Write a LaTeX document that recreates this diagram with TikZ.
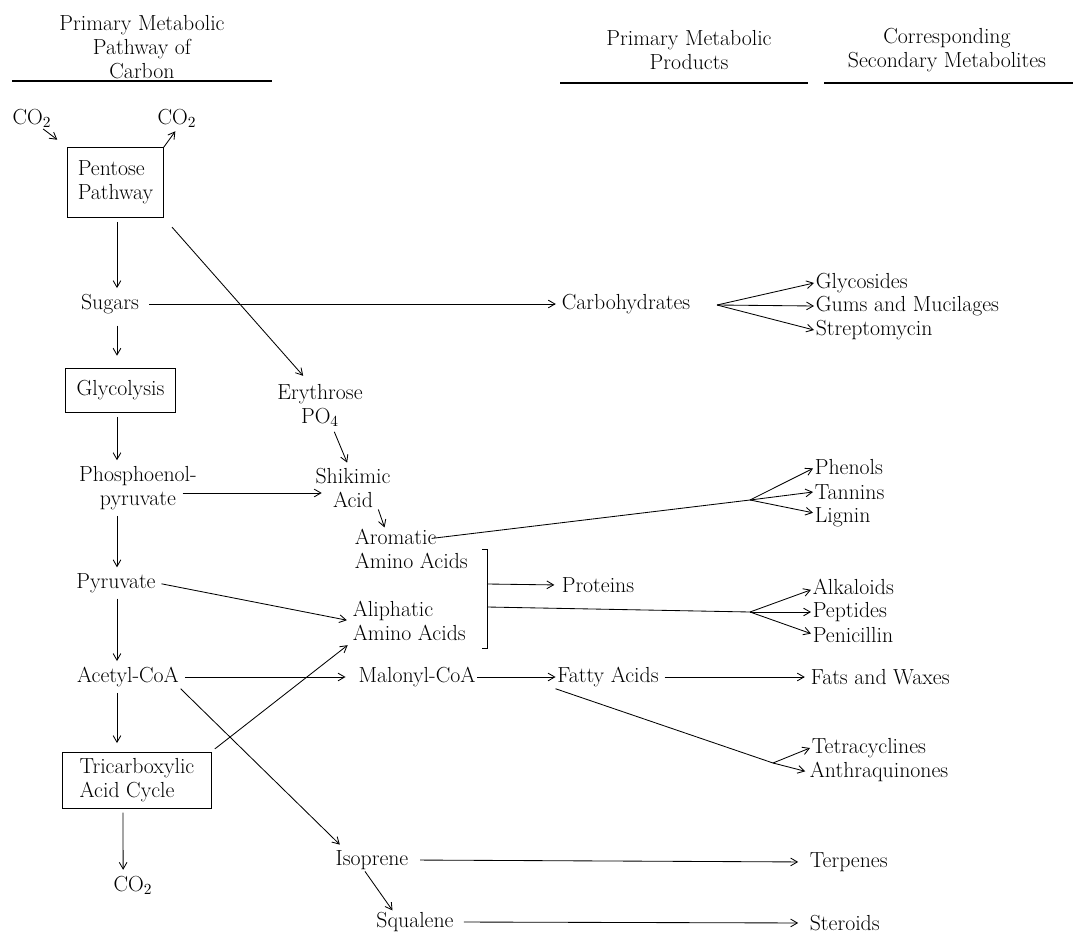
\documentclass[tikz,border=0pt]{standalone}
\usepackage{tikz}
\usetikzlibrary{arrows.meta, positioning, calc}

\newcommand{\pathfont}{\fontsize{15.5}{17}\selectfont}

\tikzset{
  lbl/.style={inner sep=1pt, align=center, font=\pathfont},
  sec/.style={lbl, anchor=west},
  pbox/.style={draw, line width=0.7pt, inner sep=1pt, align=left, font=\pathfont},
  arr/.style={->, shorten >=3pt, shorten <=3pt},
  rule/.style={line width=0.8pt}
}

\begin{document}
\begin{tikzpicture}[x=0.025cm, y=-0.025cm, line width=0.6pt,
    >={Straight Barb[angle=60:5.5pt]}]
  \useasboundingbox (0,0) rectangle (1073,933);

  % column headings
  \node[lbl] (hdpath) at (142,47) {Primary Metabolic\\Pathway of\\Carbon};
  \node[lbl] (hdprod) at (689,50) {Primary Metabolic\\Products};
  \node[lbl] (hdsec) at (947,50) {Corresponding\\Secondary Metabolites};
  \draw[rule] (12,81) -- (272,81);
  \draw[rule] (560,83) -- (808,83);
  \draw[rule] (824,83) -- (1073,83);

  % primary pathway of carbon
  \coordinate (col) at (117,0);
  \node[lbl] (co2in) at (32,118) {CO$_2$};
  \node[lbl] (co2out) at (177,118) {CO$_2$};
  \node[pbox, minimum width=2.38cm, minimum height=1.73cm] (pentose) at (115.5,182.5) {Pentose\\Pathway};
  \node[lbl] (sugars) at (110,304) {Sugars};
  \node[pbox, minimum width=2.73cm, minimum height=1.08cm] (glyc) at (120.5,390.5) {Glycolysis};
  \node[lbl] (pep) at (138,488) {Phosphoenol-\\pyruvate};
  \node[lbl] (pyr) at (116,583) {Pyruvate};
  \node[lbl] (acetyl) at (128,677) {Acetyl-CoA};
  \node[pbox, minimum width=3.7cm, minimum height=1.4cm] (tca) at (137,780) {Tricarboxylic\\Acid Cycle};
  \node[lbl] (co2end) at (133,885) {CO$_2$};

  % intermediates
  \node[lbl] (eryth) at (320,405) {Erythrose\\PO$_4$};
  \node[lbl] (shik) at (353,488) {Shikimic\\Acid};
  \node[lbl, anchor=west, align=left] (aroma) at (353,549) {Aromatic\\Amino Acids};
  \node[lbl, anchor=west, align=left] (aliph) at (351,621) {Aliphatic\\Amino Acids};
  \node[lbl] (malonyl) at (417,677) {Malonyl-CoA};
  \node[lbl] (isop) at (372,860) {Isoprene};
  \node[lbl] (squal) at (415,922) {Squalene};

  % primary products
  \node[lbl] (carbo) at (626,304) {Carbohydrates};
  \node[lbl] (prot) at (598,585) {Proteins};
  \node[lbl] (fatty) at (608,677) {Fatty Acids};

  % secondary metabolites
  \node[sec] (glycos) at (814,283) {Glycosides};
  \node[sec] (gums) at (814,306) {Gums and Mucilages};
  \node[sec] (strepto) at (814,330) {Streptomycin};
  \node[sec] (phenols) at (813,467) {Phenols};
  \node[sec] (tannins) at (813,492) {Tannins};
  \node[sec] (lignin) at (813,517) {Lignin};
  \node[sec] (alkal) at (811,587) {Alkaloids};
  \node[sec] (pept) at (811,612) {Peptides};
  \node[sec] (penic) at (811,635) {Penicillin};
  \node[sec] (fats) at (809,677) {Fats and Waxes};
  \node[sec] (tetra) at (810,748) {Tetracyclines};
  \node[sec] (anthra) at (808,772) {Anthraquinones};
  \node[sec] (terp) at (808,862) {Terpenes};
  \node[sec] (ster) at (808,923) {Steroids};

  % branch points
  \coordinate (carbBr) at (717,305);
  \coordinate (aroBr) at (750,500);
  \coordinate (aaBr) at (750,612);
  \coordinate (fatBr) at (773,763);
  \coordinate (aaProt) at (487,584);
  \coordinate (aaOut) at (487,607);

  % amino acid bracket
  \draw (482,549) -- (487,549) -- (487,648) -- (482,648);

  % main line
  \draw[->, shorten >=9pt] ([shift={(-10,0)}]co2in.south east) -- (pentose.north west);
  \draw[->, shorten >=2pt] (pentose.north east) -- (co2out.south);
  \draw[arr] (pentose.south -| col) -- (sugars.north -| col);
  \draw[arr, shorten <=7pt, shorten >=9pt] (sugars.south -| col) -- (glyc.north -| col);
  \draw[arr] (glyc.south -| col) -- (pep.north -| col);
  \draw[arr] (pep.south -| col) -- (pyr.north -| col);
  \draw[arr] (pyr.south -| col) -- (acetyl.north -| col);
  \draw[arr, shorten >=6pt] (acetyl.south -| col) -- (tca.north -| col);
  \draw[arr] ([xshift=-10pt]tca.south) -- ([xshift=-7pt]co2end.north);

  % side routes
  \draw[arr, shorten <=9pt, shorten >=6pt] (pentose.south east) -- ([xshift=-8pt]eryth.north);
  \draw[arr] ([xshift=9pt]eryth.south) -- ([xshift=-3pt]shik.north);
  \draw[->] ([shift={(-16,5)}]pep.east) -- ([shift={(8,5)}]shik.west);
  \draw[->] ([xshift=18pt]shik.south) -- ([xshift=-19pt]aroma.north);
  \draw[arr] (pyr.east) -- (aliph.west);
  \draw[arr] (tca.north east) -- (aliph.south west);
  \draw[arr, shorten >=8pt] (acetyl.east) -- (malonyl.west);
  \draw[->] (acetyl.south east) -- ([shift={(6,-4)}]isop.north west);
  \draw[->] ([xshift=-5pt]isop.south) -- ([xshift=-16pt]squal.north);

  % to primary products
  \draw[arr, shorten <=6pt] (sugars.east) -- (carbo.west);
  \draw[->, shorten >=4pt] (aaProt) -- (prot.west);
  \draw[->] (malonyl.east) -- (fatty.west);

  % to secondary metabolites
  \draw[->] (carbBr) -- (glycos.west);
  \draw[->] (carbBr) -- (gums.west);
  \draw[->] (carbBr) -- (strepto.west);
  \draw ([shift={(-38,11)}]aroma.north east) -- (aroBr);
  \draw[->] (aroBr) -- ([yshift=-1pt]phenols.west);
  \draw[->] (aroBr) -- (tannins.west);
  \draw[->] (aroBr) -- ([yshift=3pt]lignin.west);
  \draw (aaOut) -- (aaBr);
  \draw[->] (aaBr) -- ([yshift=-2pt]alkal.west);
  \draw[->] (aaBr) -- (pept.west);
  \draw[->] (aaBr) -- ([yshift=1pt]penic.west);
  \draw[arr] (fatty.east) -- (fats.west);
  \draw (fatty.south west) -- (fatBr);
  \draw[->] (fatBr) -- (tetra.west);
  \draw[->, shorten >=2pt] (fatBr) -- (anthra.west);
  \draw[arr, shorten <=7pt, shorten >=7pt] (isop.east) -- (terp.west);
  \draw[arr, shorten <=6pt, shorten >=7pt] (squal.east) -- (ster.west);
\end{tikzpicture}
\end{document}
